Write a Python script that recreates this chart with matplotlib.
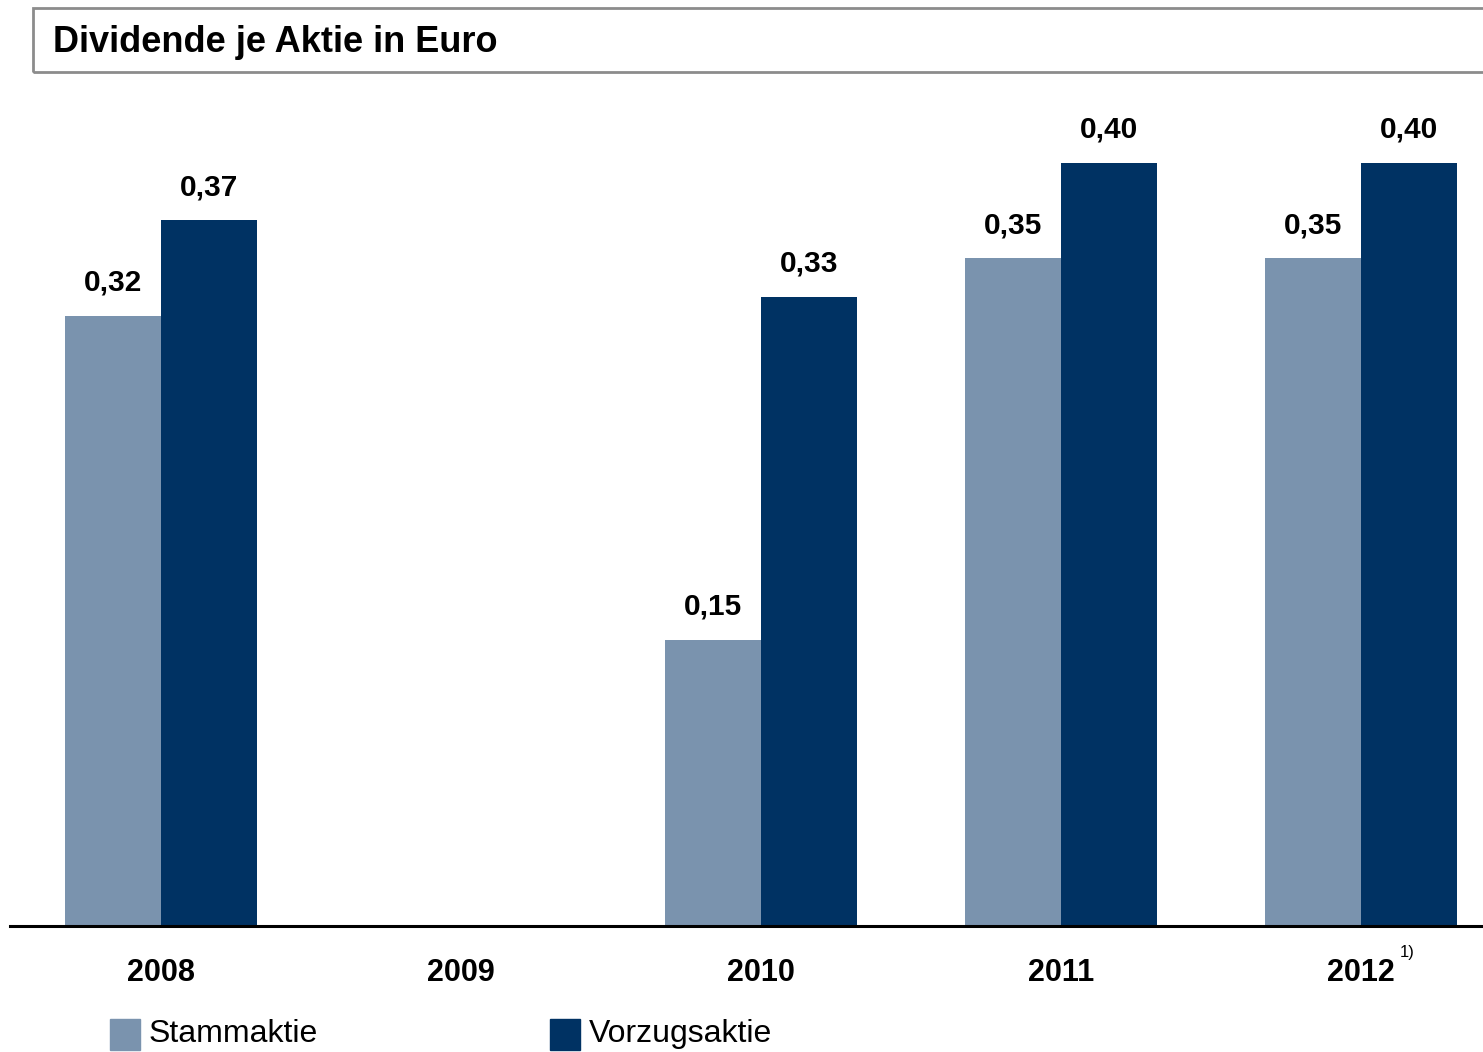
import matplotlib
matplotlib.use("Agg")
import matplotlib.pyplot as plt
from matplotlib.patches import Rectangle

plt.rcParams['font.family'] = ['Liberation Sans', 'DejaVu Sans']

years = ["2008", "2009", "2010", "2011", "2012"]
stamm = [0.32, None, 0.15, 0.35, 0.35]
vorzug = [0.37, None, 0.33, 0.40, 0.40]
labels_stamm = ["0,32", "", "0,15", "0,35", "0,35"]
labels_vorzug = ["0,37", "", "0,33", "0,40", "0,40"]
series_names = ["Stammaktie", "Vorzugsaktie"]

c_stamm = "#7A93AE"
c_vorzug = "#003263"

W, H = 1483, 1052
fig = plt.figure(figsize=(W / 100, H / 100), dpi=100)

# plot area in pixel terms
ax_left, ax_right = 10, 1483
ax_bottom, ax_top = 926, 100
ax = fig.add_axes([ax_left / W, 1 - ax_bottom / H, (ax_right - ax_left) / W, (ax_bottom - ax_top) / H])

width = 0.32
xs = list(range(len(years)))
for i in xs:
    if stamm[i] is not None:
        ax.bar(i - width / 2, stamm[i], width=width, color=c_stamm, linewidth=0)
        ax.annotate(labels_stamm[i], (i - width / 2, stamm[i]), xytext=(0, 18),
                    textcoords="offset points", ha="center", va="baseline",
                    fontsize=21.5, fontweight="bold")
    if vorzug[i] is not None:
        ax.bar(i + width / 2, vorzug[i], width=width, color=c_vorzug, linewidth=0)
        ax.annotate(labels_vorzug[i], (i + width / 2, vorzug[i]), xytext=(0, 18),
                    textcoords="offset points", ha="center", va="baseline",
                    fontsize=21.5, fontweight="bold")

ax.set_xlim((ax_left - 161) / 300, (ax_right - 161) / 300)
ax.set_ylim(0, (ax_bottom - ax_top) / 1907.5)

for s in ["top", "right", "left"]:
    ax.spines[s].set_visible(False)
ax.spines["bottom"].set_linewidth(2.2)
ax.spines["bottom"].set_color("black")
ax.set_yticks([])
ax.set_xticks(xs)
ax.set_xticklabels(years, fontsize=22, fontweight="bold")
ax.tick_params(axis="x", length=0, pad=23)

# footnote marker next to the last year
ax.annotate("1)", (4, 0), xytext=(28, -19), textcoords="offset points",
            ha="left", va="center", fontsize=12, annotation_clip=False)

# title box
fig.patches.append(Rectangle((33 / W, 1 - 72 / H), (W + 10 - 33) / W, 64 / H,
                             transform=fig.transFigure, fill=False,
                             edgecolor="#8C8C8C", linewidth=2, clip_on=False))
fig.text(53 / W, 1 - 42 / H, "Dividende je Aktie in Euro", fontsize=26,
         fontweight="bold", ha="left", va="center")

# legend
for x0, name, col in [(110, series_names[0], c_stamm), (550, series_names[1], c_vorzug)]:
    fig.patches.append(Rectangle((x0 / W, 1 - 1050 / H), 30 / W, 31 / H,
                                 transform=fig.transFigure, color=col))
    fig.text((x0 + 39) / W, 1 - 1034 / H, name, fontsize=23, ha="left", va="center")

fig.savefig("out.png", dpi=100)
